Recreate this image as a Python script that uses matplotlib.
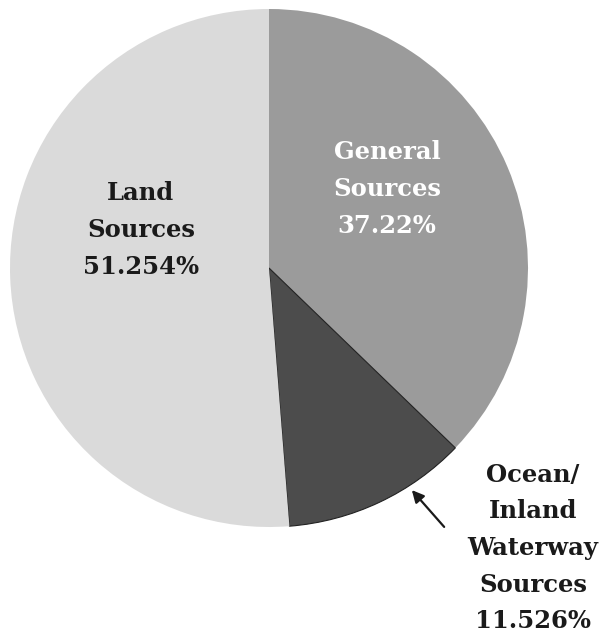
import matplotlib
matplotlib.use("Agg")
import matplotlib.pyplot as plt

# Shares of pollution sources (percent)
categories = ["General\nSources", "Ocean/\nInland\nWaterway\nSources", "Land\nSources"]
values = [37.22, 11.526, 51.254]
value_labels = ["37.22%", "11.526%", "51.254%"]
colors = ["#9b9b9b", "#4c4c4c", "#dadada"]

fig = plt.figure(figsize=(6.07, 6.36), dpi=100)
ax = fig.add_axes([10 / 607, (636 - 527) / 636, 518 / 607, 518 / 636])

wedges, _ = ax.pie(values, colors=colors, startangle=90, counterclock=False,
                   radius=1.0, wedgeprops=dict(linewidth=0))
wedges[1].set_edgecolor("#222222")
wedges[1].set_linewidth(0.8)
ax.set_xlim(-1, 1)
ax.set_ylim(-1, 1)
ax.set_aspect("auto")
ax.axis("off")

font = dict(family="DejaVu Serif", fontweight="bold", fontsize=17.5,
            ha="center", va="center", linespacing=1.66)

# Labels placed in figure pixel coordinates (origin at top left)
def fig_xy(px, py):
    return px / 607, 1 - py / 636

fig.text(*fig_xy(387, 189), f"{categories[0]}\n{value_labels[0]}",
         color="white", **font)
fig.text(*fig_xy(141, 230), f"{categories[2]}\n{value_labels[2]}",
         color="#1a1a1a", **font)
fig.text(*fig_xy(533, 548), f"{categories[1]}\n{value_labels[1]}",
         color="#1a1a1a", **font)

ax.annotate("", xy=fig_xy(410, 488), xycoords="figure fraction",
            xytext=fig_xy(446, 529), textcoords="figure fraction",
            arrowprops=dict(arrowstyle="-|>", color="#1a1a1a", lw=1.6,
                            mutation_scale=18))

fig.savefig("out.png", dpi=100, facecolor="white")
